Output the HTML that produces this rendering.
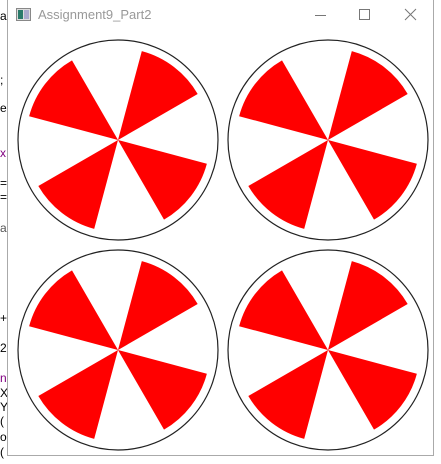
<!DOCTYPE html>
<html><head><meta charset="utf-8">
<style>
html,body{margin:0;padding:0;width:441px;height:464px;overflow:hidden;background:#fff;font-family:"Liberation Sans","Noto Sans CJK SC",sans-serif;}
#win{position:absolute;left:7px;top:0;width:425px;height:455px;border:1px solid #aaa;border-top:none;background:#fff;}
#title{position:absolute;left:30px;top:7px;font-size:13px;color:#999;}
.side{position:absolute;left:0;font-size:12px;color:#000;}
</style></head><body>
<div class="side" style="top:9px">a</div>
<div class="side" style="top:73px">;</div>
<div class="side" style="top:101px">e</div>
<div class="side" style="top:146px;color:#800080">x</div>
<div class="side" style="top:176px">=</div>
<div class="side" style="top:190px">=</div>
<div class="side" style="top:221px;color:#555">a</div>
<div class="side" style="top:311px">+</div>
<div class="side" style="top:341px">2</div>
<div class="side" style="top:371px;color:#800080">n</div>
<div class="side" style="top:386px">X</div>
<div class="side" style="top:400px">Y</div>
<div class="side" style="top:414px">(</div>
<div class="side" style="top:430px">o</div>
<div class="side" style="top:445px">(</div>
<div id="win">
  <svg style="position:absolute;left:8px;top:8px" width="15" height="13">
    <rect x="0.5" y="0.5" width="14" height="12" fill="#ddd" stroke="#888"/>
    <rect x="2" y="2" width="5" height="9" fill="#2a7a6a"/><rect x="8" y="2" width="5" height="9" fill="#aac"/>
  </svg>
  <div id="title">Assignment9_Part2</div>
  <svg style="position:absolute;left:306px;top:8px" width="14" height="14"><line x1="1" y1="7.5" x2="12" y2="7.5" stroke="#777"/></svg>
  <svg style="position:absolute;left:350px;top:8px" width="14" height="14"><rect x="1.5" y="1.5" width="10" height="10" fill="none" stroke="#777"/></svg>
  <svg style="position:absolute;left:396px;top:8px" width="14" height="14"><path d="M1 1L12 12M12 1L1 12" stroke="#777"/></svg>
</div>
<svg id="chart" style="position:absolute;left:0;top:0" width="441" height="464"></svg>
<script>
const centersX = [118, 328];
const centersY = [140, 350];
const wedgeStarts = [30, 120, 210, 300];
const wedgeSpans = [45, 45, 45, 45];
const outerRadius = 100;
const wedgeRadius = 92;
const svg = document.getElementById('chart');
const NS = 'http://www.w3.org/2000/svg';
function pt(cx, cy, r, deg){ const a = deg*Math.PI/180; return [cx + r*Math.cos(a), cy - r*Math.sin(a)]; }
centersY.forEach((cy, i) => {
  centersX.forEach((cx, j) => {
    const g = document.createElementNS(NS, 'g');
    
    
    const c = document.createElementNS(NS, 'circle');
    
    
    c.setAttribute('cx', cx); c.setAttribute('cy', cy); c.setAttribute('r', outerRadius);
    c.setAttribute('fill', 'none'); c.setAttribute('stroke', '#222'); c.setAttribute('stroke-width', '1.2');
    g.appendChild(c);
    wedgeStarts.forEach((s, k) => {
      const e = s + wedgeSpans[k];
      const p1 = pt(cx, cy, wedgeRadius, s), p2 = pt(cx, cy, wedgeRadius, e);
      const large = wedgeSpans[k] > 180 ? 1 : 0;
      const p = document.createElementNS(NS, 'path');
      
      
      p.setAttribute('d', `M${cx} ${cy}L${p1[0]} ${p1[1]}A${wedgeRadius} ${wedgeRadius} 0 ${large} 0 ${p2[0]} ${p2[1]}Z`);
      p.setAttribute('fill', '#ff0000');
      g.appendChild(p);
    });
    svg.appendChild(g);
  });
});
</script>
</body></html>
